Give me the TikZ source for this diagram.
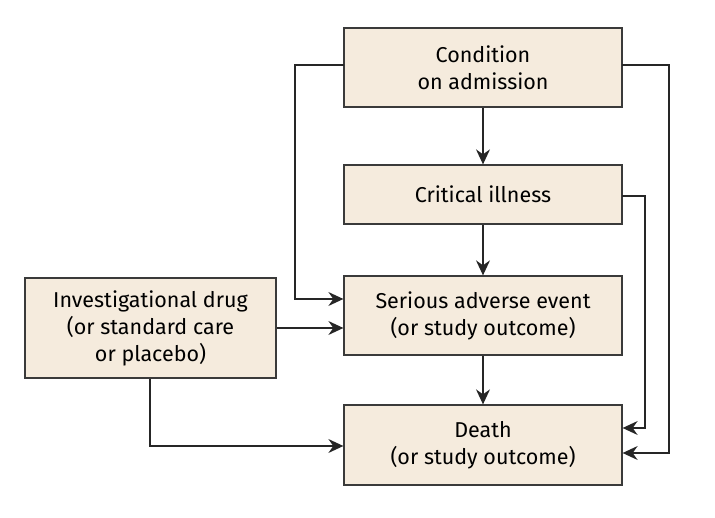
\documentclass[tikz,border=0pt]{standalone}
\usepackage{fontspec}
\setmainfont{Fira Sans}[Scale=1]
\usetikzlibrary{arrows.meta}
\definecolor{boxfill}{HTML}{F5EBDD}
\definecolor{boxline}{HTML}{3A3A3A}
\begin{document}
\begin{tikzpicture}[x=1pt,y=-1pt,
  box/.style={draw=boxline,line width=1.3pt,fill=boxfill,inner sep=0pt,align=center,
    font=\fontsize{21.5}{27}\selectfont},
  conn/.style={draw=black!85,line width=1.1pt,-{Stealth[length=15pt,width=14pt,inset=5pt]}}]
\useasboundingbox (0,0) rectangle (715,518);
\node[box,minimum width=278pt,minimum height=79pt] (cond) at (483,67.5) {Condition\\on admission};
\node[box,minimum width=278pt,minimum height=59pt] (crit) at (483,194.5) {Critical illness};
\node[box,minimum width=278pt,minimum height=79pt] (sae) at (483,315.5) {Serious adverse event\\(or study outcome)};
\node[box,minimum width=278pt,minimum height=80pt] (death) at (483,445) {Death\\(or study outcome)};
\node[box,minimum width=251pt,minimum height=100pt] (inv) at (150.5,328) {Investigational drug\\(or standard care\\or placebo)};
\coordinate (condL) at (344,65);
\coordinate (condR) at (622,65);
\coordinate (critR) at (622,196);
\draw[conn] (cond) -- (crit);
\draw[conn] (crit) -- (sae);
\draw[conn] (sae) -- (death);
\draw[conn] (condL) -- (295,65) |- (sae.west |- 0,299);
\draw[conn] (inv.east) -- (sae.west |- inv.east);
\draw[conn] (inv.south -| 150,0) |- (death.west |- 0,446);
\draw[conn] (condR) -- (669,65) |- (death.east |- 0,453);
\draw[conn] (critR) -- (645,196) |- (death.east |- 0,428);
\end{tikzpicture}
\end{document}
